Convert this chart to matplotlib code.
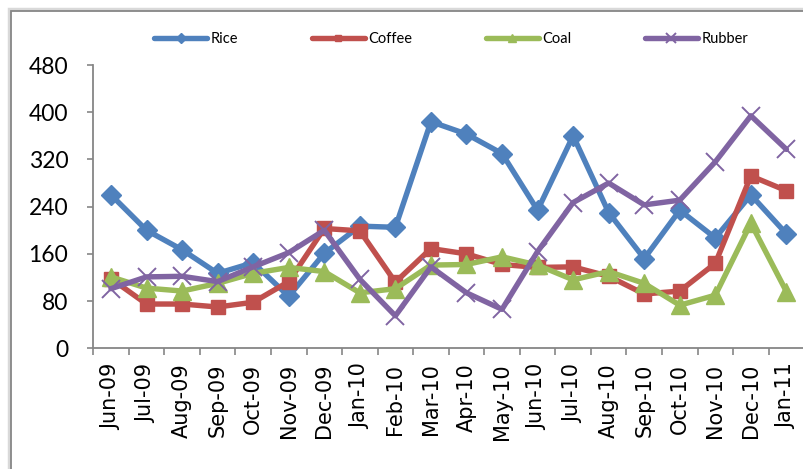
import matplotlib
matplotlib.use("Agg")
import matplotlib.pyplot as plt
from matplotlib.patches import Rectangle
import numpy as np

# Monthly index values per commodity
months = ["Jun-09", "Jul-09", "Aug-09", "Sep-09", "Oct-09", "Nov-09", "Dec-09",
          "Jan-10", "Feb-10", "Mar-10", "Apr-10", "May-10", "Jun-10", "Jul-10",
          "Aug-10", "Sep-10", "Oct-10", "Nov-10", "Dec-10", "Jan-11"]
rice = [260, 200, 167, 127, 145, 88, 161, 207, 205, 384, 363, 330, 234, 360,
        230, 152, 234, 187, 260, 194]
coffee = [118, 75, 75, 70, 78, 113, 203, 199, 112, 169, 160, 142, 137, 138,
          122, 92, 97, 144, 292, 267]
coal = [121, 102, 97, 110, 127, 137, 130, 94, 101, 141, 142, 155, 141, 116,
        130, 110, 73, 90, 212, 96]
rubber = [101, 121, 122, 113, 138, 162, 200, 117, 55, 138, 94, 66, 164, 247,
          280, 243, 251, 316, 394, 337]
y_ticks = [0, 80, 160, 240, 320, 400, 480]

series = [
    ("Rice", rice, "#4F81BD", "D", 10.5, 1.0),
    ("Coffee", coffee, "#C0504D", "s", 9.8, 1.0),
    ("Coal", coal, "#9BBB59", "^", 12.5, 1.0),
    ("Rubber", rubber, "#8064A2", "x", 13.0, 1.4),
]

fig = plt.figure(figsize=(8.04, 4.69), dpi=100)
fig.patch.set_facecolor("white")

# chart frame
fig.patches.append(Rectangle((9.5 / 804, -0.1), 1.2, 1 - 9.5 / 469 + 0.1,
                             transform=fig.transFigure, fill=False,
                             edgecolor="#D9D9D9", linewidth=2.5, zorder=0))
fig.patches.append(Rectangle((11 / 804, -0.1), 1.2, 1 - 11 / 469 + 0.1,
                             transform=fig.transFigure, fill=False,
                             edgecolor="#878787", linewidth=1.3, zorder=1))

ax = fig.add_axes([93.2 / 804, 120.7 / 469, 711 / 804, 283.3 / 469])
ax.set_facecolor("none")

x = np.arange(len(months))
handles = []
for name, vals, color, marker, ms, mew in series:
    h, = ax.plot(x, vals, color=color, linewidth=3.9, marker=marker,
                 markersize=ms, markerfacecolor=color, markeredgecolor=color,
                 markeredgewidth=mew, solid_joinstyle="round",
                 solid_capstyle="round", label=name, clip_on=False)
    handles.append(h)

ax.set_xlim(-0.5, len(months) - 0.5)
ax.set_ylim(0, 480)

for side in ("top", "right"):
    ax.spines[side].set_visible(False)
for side in ("left", "bottom"):
    ax.spines[side].set_color("#868686")
    ax.spines[side].set_linewidth(1.3)

ax.set_yticks(y_ticks)
ax.set_yticklabels([str(v) for v in y_ticks], fontfamily="Lato", fontsize=16.5)
ax.tick_params(axis="y", direction="out", length=4, width=1.2,
               color="#868686", pad=14)

ax.set_xticks(np.arange(-0.5, len(months), 1.0))
ax.set_xticklabels([])
ax.set_xticks(x, minor=True)
ax.set_xticklabels(months, minor=True, rotation=90, fontfamily="DejaVu Sans",
                   fontsize=15)
ax.tick_params(axis="x", which="major", direction="out", length=5, width=1.2,
               color="#868686")
ax.tick_params(axis="x", which="minor", length=0, pad=11)

fig.legend(handles=handles, loc="center left",
           bbox_to_anchor=(154 / 804, 1 - 39 / 469), ncol=4, frameon=False,
           prop={"family": "Lato", "size": 10.5}, handlelength=3.65,
           handletextpad=0.22, columnspacing=5.05, borderpad=0,
           borderaxespad=0, markerscale=0.5)

fig.savefig("out.png", dpi=100, facecolor="white")
